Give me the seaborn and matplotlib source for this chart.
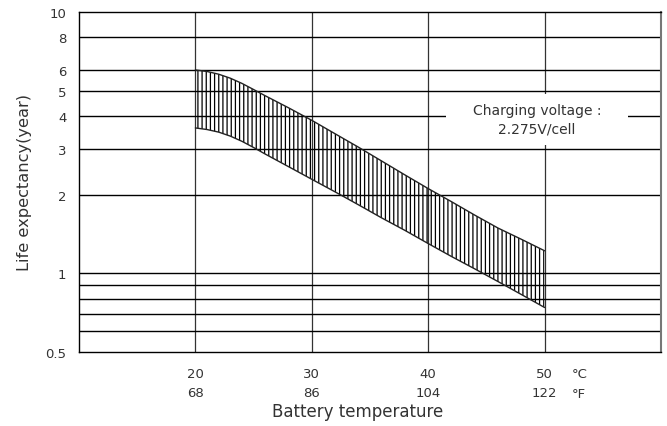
import numpy as np
import pandas as pd
import matplotlib
matplotlib.use("Agg")
import matplotlib.pyplot as plt
import matplotlib.patches as mpatches
import seaborn as sns

# temperatures (degC) and the band
temp_c = [20, 21, 22, 23, 24, 25, 26, 28, 30, 32, 34, 36, 38, 40, 42, 44, 46, 48, 50]
life_upper = [6.0, 5.92, 5.78, 5.58, 5.33, 5.05, 4.78, 4.3, 3.85, 3.42, 3.04, 2.69, 2.38,
              2.11, 1.88, 1.67, 1.49, 1.35, 1.22]
life_lower = [3.6, 3.55, 3.47, 3.35, 3.2, 3.03, 2.86, 2.56, 2.29, 2.05, 1.83, 1.63, 1.46,
              1.30, 1.16, 1.04, 0.93, 0.83, 0.74]

x_ticks = [20, 30, 40, 50]
x_fahrenheit = ["68", "86", "104", "122"]
y_ticks = [0.5, 1, 2, 3, 4, 5, 6, 8, 10]
y_tick_labels = ["0.5", "1", "2", "3", "4", "5", "6", "8", "10"]
y_grid = [0.6, 0.7, 0.8, 0.9, 1, 2, 3, 4, 5, 6, 8]

df = pd.DataFrame({"temp": temp_c, "upper": life_upper, "lower": life_lower})

sns.set_style("white")
plt.rcParams["font.family"] = ["DejaVu Sans"]
plt.rcParams["hatch.linewidth"] = 0.9
txt = "#333333"

fig = plt.figure(figsize=(6.67, 4.27), dpi=100)
ax = fig.add_axes([0.1184, 0.1733, 0.8726, 0.7963])

ax.set_yscale("log")
ax.set_xlim(10, 60)
ax.set_ylim(0.5, 10)

# horizontal grid lines
for g in y_grid:
    ax.axhline(g, color="black", lw=1.0, zorder=1)

ax.fill_between(df["temp"], df["lower"], df["upper"], facecolor="none",
                edgecolor="black", hatch="||||", linewidth=0, zorder=2)
sns.lineplot(data=df, x="temp", y="upper", color="#222222", lw=1.0, ax=ax, zorder=3)
sns.lineplot(data=df, x="temp", y="lower", color="#222222", lw=1.0, ax=ax, zorder=3)

ax.set_yticks(y_ticks)
ax.set_yticklabels(y_tick_labels)
ax.yaxis.set_minor_locator(matplotlib.ticker.NullLocator())

ax.set_xticks(x_ticks)
ax.set_xticklabels([f"{c}\n{f}" for c, f in zip(x_ticks, x_fahrenheit)])
ax.grid(which="major", axis="x", color="#333333", lw=0.9, zorder=1)
ax.grid(which="major", axis="y", visible=False)
for lbl in ax.get_xticklabels():
    lbl.set_linespacing(1.55)

ax.tick_params(axis="both", which="both", length=0, labelsize=9.5, labelcolor=txt)
ax.tick_params(axis="x", pad=11)
ax.tick_params(axis="y", pad=9)

for s in ax.spines.values():
    s.set_color("black")
    s.set_linewidth(1.0)
ax.spines["right"].set_color("#777777")
ax.spines["right"].set_linewidth(1.5)

trans = matplotlib.transforms.blended_transform_factory(ax.transData, ax.transAxes)
ax.text(52.3, -0.062, "°C", transform=trans, ha="left", va="center", fontsize=9.5, color=txt)
ax.text(52.3, -0.121, "°F", transform=trans, ha="left", va="center", fontsize=9.5, color=txt)

ax.set_xlabel("")
ax.set_ylabel("Life expectancy(year)", fontsize=11.7, color=txt, labelpad=10)
fig.text(0.5355, 0.035, "Battery temperature", ha="center", va="center", fontsize=12, color=txt)

# white panel behind the note
ax.add_patch(mpatches.Rectangle((0.631, 0.609), 0.312, 0.150, transform=ax.transAxes,
                                facecolor="white", edgecolor="none", zorder=4))
ax.text(49.35, 0.685, "Charging voltage :\n2.275V/cell", transform=trans,
        ha="center", va="center", fontsize=10, color=txt, linespacing=1.45, zorder=5)

fig.savefig("out.png", dpi=100)
